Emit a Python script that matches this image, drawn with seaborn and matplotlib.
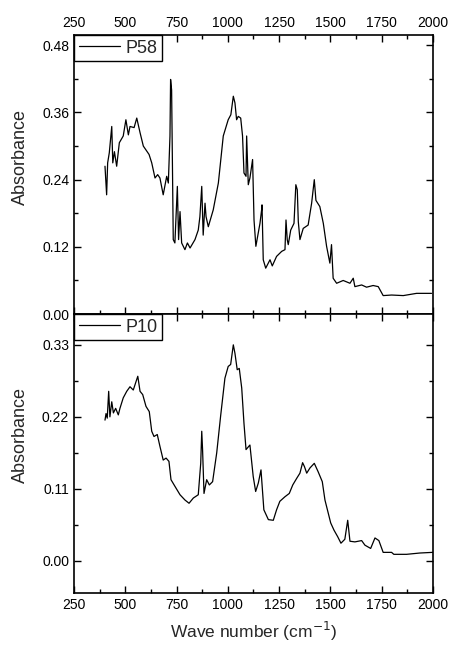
import numpy as np
import pandas as pd
import matplotlib
matplotlib.use("Agg")
import matplotlib.pyplot as plt
from matplotlib.ticker import MultipleLocator
import seaborn as sns

# P58 spectrum (wave number, absorbance)
p58_wave = [401, 409, 414, 422, 434, 439, 447, 458, 471, 490, 503, 515, 523, 543, 556,
            572, 588, 616, 629, 645, 658, 669, 685, 702, 710, 718, 721, 726, 734, 742,
            754, 760, 767, 775, 791, 803, 816, 840, 856, 864, 873, 880, 889, 894, 905,
            929, 954, 978, 1002, 1015, 1027, 1035, 1043, 1051, 1063, 1072, 1079, 1089,
            1092, 1100, 1108, 1121, 1128, 1137, 1157, 1165, 1167, 1173, 1185, 1206, 1217,
            1238, 1263, 1279, 1284, 1290, 1295, 1307, 1323, 1332, 1339, 1344, 1352, 1368,
            1392, 1409, 1422, 1430, 1449, 1466, 1482, 1498, 1506, 1514, 1531, 1563, 1596,
            1612, 1620, 1653, 1677, 1709, 1734, 1758, 1799, 1856, 1921, 1994]
p58_abs = [0.264, 0.213, 0.270, 0.288, 0.335, 0.270, 0.290, 0.264, 0.306, 0.318, 0.347,
           0.320, 0.335, 0.333, 0.350, 0.324, 0.300, 0.285, 0.270, 0.243, 0.249, 0.243,
           0.213, 0.246, 0.234, 0.318, 0.419, 0.400, 0.133, 0.127, 0.228, 0.133, 0.183,
           0.127, 0.115, 0.127, 0.118, 0.133, 0.150, 0.174, 0.228, 0.141, 0.198, 0.174,
           0.156, 0.186, 0.234, 0.318, 0.347, 0.356, 0.389, 0.377, 0.347, 0.353, 0.350,
           0.318, 0.252, 0.246, 0.318, 0.231, 0.243, 0.276, 0.168, 0.121, 0.162, 0.186,
           0.195, 0.097, 0.082, 0.097, 0.086, 0.103, 0.112, 0.115, 0.168, 0.133, 0.124,
           0.150, 0.162, 0.231, 0.222, 0.165, 0.133, 0.153, 0.159, 0.198, 0.240, 0.203,
           0.192, 0.162, 0.121, 0.091, 0.124, 0.064, 0.055, 0.060, 0.055, 0.064, 0.049,
           0.052, 0.048, 0.051, 0.049, 0.033, 0.034, 0.033, 0.037, 0.037]

# P10 spectrum
p10_wave = [401, 406, 412, 419, 425, 434, 442, 453, 466, 474, 490, 507, 523, 539, 561,
            572, 585, 601, 617, 629, 640, 656, 669, 685, 699, 713, 723, 742, 767, 791,
            811, 832, 856, 868, 873, 877, 884, 897, 910, 926, 946, 965, 986, 1002, 1014,
            1027, 1035, 1046, 1056, 1068, 1079, 1089, 1108, 1124, 1136, 1149, 1162, 1176,
            1198, 1222, 1238, 1254, 1279, 1300, 1317, 1336, 1352, 1365, 1374, 1385, 1401,
            1422, 1441, 1461, 1474, 1490, 1502, 1518, 1536, 1552, 1571, 1585, 1596, 1620,
            1653, 1669, 1697, 1718, 1737, 1758, 1799, 1810, 1872, 1937, 1999]
p10_abs = [0.215, 0.225, 0.218, 0.259, 0.220, 0.243, 0.226, 0.233, 0.223, 0.233, 0.249,
           0.259, 0.266, 0.261, 0.282, 0.259, 0.254, 0.236, 0.228, 0.198, 0.190, 0.193,
           0.175, 0.154, 0.157, 0.152, 0.124, 0.114, 0.101, 0.093, 0.088, 0.096, 0.101,
           0.149, 0.198, 0.170, 0.103, 0.124, 0.116, 0.121, 0.165, 0.221, 0.279, 0.297,
           0.300, 0.330, 0.317, 0.292, 0.294, 0.264, 0.210, 0.170, 0.177, 0.129, 0.106,
           0.119, 0.139, 0.078, 0.063, 0.062, 0.078, 0.091, 0.098, 0.103, 0.116, 0.126,
           0.134, 0.150, 0.144, 0.134, 0.142, 0.149, 0.136, 0.121, 0.093, 0.073, 0.058,
           0.047, 0.037, 0.027, 0.033, 0.062, 0.030, 0.029, 0.031, 0.024, 0.019, 0.035,
           0.031, 0.013, 0.013, 0.010, 0.010, 0.012, 0.013]

x_ticks = [250, 500, 750, 1000, 1250, 1500, 1750, 2000]

sns.set_style("ticks")
plt.rcParams['font.family'] = ['Liberation Sans', 'DejaVu Sans']

fig = plt.figure(figsize=(4.57, 6.64), dpi=100)
ax1 = fig.add_axes([0.162, 0.527, 0.785, 0.420])
ax2 = fig.add_axes([0.162, 0.107, 0.785, 0.420])

df58 = pd.DataFrame({"wave": p58_wave, "abs": p58_abs})
df10 = pd.DataFrame({"wave": p10_wave, "abs": p10_abs})

sns.lineplot(data=df58, x="wave", y="abs", ax=ax1, color="black", linewidth=0.9, label="P58")
sns.lineplot(data=df10, x="wave", y="abs", ax=ax2, color="black", linewidth=0.9, label="P10")

for ax in (ax1, ax2):
    ax.set_xlim(250, 2000)
    ax.set_xticks(x_ticks)
    ax.xaxis.set_minor_locator(MultipleLocator(125))
    ax.tick_params(which="both", direction="in", top=True, right=True,
                   labelsize=10, width=1, colors="black")
    ax.tick_params(which="major", length=5)
    ax.tick_params(which="minor", length=3)
    for s in ax.spines.values():
        s.set_linewidth(1.2)
        s.set_color("black")
    ax.set_ylabel("Absorbance", fontsize=13)
    ax.yaxis.set_label_coords(-0.125, 0.565)
    leg = ax.legend(loc="upper left", borderaxespad=0, fancybox=False, framealpha=1,
                    edgecolor="black", fontsize=13, handlelength=2.3,
                    handletextpad=0.3, borderpad=0.25)
    leg.get_frame().set_linewidth(1.0)

ax1.set_ylim(0, 0.498)
ax1.set_yticks([0.0, 0.12, 0.24, 0.36, 0.48])
ax1.yaxis.set_minor_locator(MultipleLocator(0.06))
ax1.set_yticklabels(["0.00", "0.12", "0.24", "0.36", "0.48"])
ax1.tick_params(labeltop=True, labelbottom=False)
ax1.set_xlabel("")

ax2.set_ylim(-0.049, 0.377)
ax2.set_yticks([0.0, 0.11, 0.22, 0.33])
ax2.yaxis.set_minor_locator(MultipleLocator(0.055))
ax2.set_yticklabels(["0.00", "0.11", "0.22", "0.33"])
ax2.set_xlabel("Wave number (cm$^{-1}$)", fontsize=12.5, labelpad=6)

fig.savefig("out.png", dpi=100)
